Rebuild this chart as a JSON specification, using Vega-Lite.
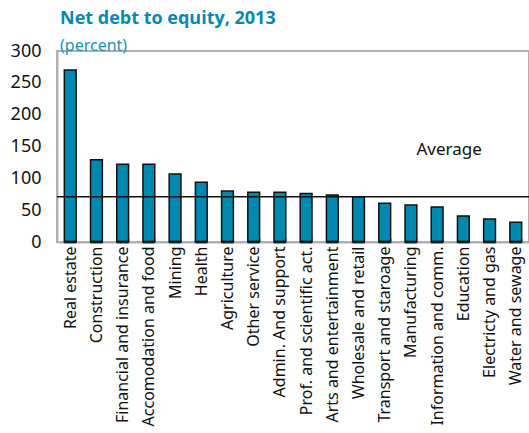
{
  "$schema": "https://vega.github.io/schema/vega-lite/v6.json",
  "width": 472,
  "height": 191,
  "autosize": "none",
  "padding": {"left": 57, "top": 51, "right": 0, "bottom": 191},
  "title": {
    "text": "Net debt to equity, 2013",
    "subtitle": "(percent)",
    "anchor": "start",
    "frame": "group",
    "dx": 3,
    "offset": -12,
    "font": "Open Sans",
    "fontSize": 18,
    "fontWeight": "bold",
    "color": "#0888b0",
    "subtitleFont": "Noto Sans",
    "subtitleFontSize": 16,
    "subtitleColor": "#1a90b8",
    "subtitlePadding": 10
  },
  "config": {
    "view": {"stroke": "#b0b0b0", "strokeWidth": 2},
    "font": "Noto Sans",
    "axisX": {
      "title": null,
      "labelAngle": -90,
      "labelFont": "Noto Sans",
      "labelFontSize": 16,
      "labelColor": "#111",
      "labelPadding": 8,
      "domainColor": "#b0b0b0",
      "domainWidth": 2,
      "tickColor": "#b0b0b0",
      "tickSize": -4,
      "tickBand": "extent",
      "labelLimit": 300,
      "labelOverlap": false,
      "grid": false
    },
    "axisY": {
      "title": null,
      "grid": false,
      "ticks": false,
      "labelFont": "Noto Sans",
      "labelFontSize": 18,
      "labelColor": "#111",
      "labelPadding": 16,
      "labelOverlap": false,
      "domainColor": "#b0b0b0",
      "domainWidth": 2
    }
  },
  "data": {
    "values": [
      {"sector": "Real estate", "value": 270},
      {"sector": "Construction", "value": 129},
      {"sector": "Financial and insurance", "value": 122},
      {"sector": "Accomodation and food", "value": 122},
      {"sector": "Mining", "value": 107},
      {"sector": "Health", "value": 94},
      {"sector": "Agriculture", "value": 80},
      {"sector": "Other service", "value": 78},
      {"sector": "Admin. And support", "value": 78},
      {"sector": "Prof. and scientific act.", "value": 76},
      {"sector": "Arts and entertainment", "value": 74},
      {"sector": "Wholesale and retail", "value": 71},
      {"sector": "Transport and staroage", "value": 61},
      {"sector": "Manufacturing", "value": 58},
      {"sector": "Information and comm.", "value": 55},
      {"sector": "Education", "value": 41},
      {"sector": "Electricty and gas", "value": 36},
      {"sector": "Water and sewage", "value": 31}
    ]
  },
  "encoding": {
    "x": {
      "field": "sector",
      "type": "nominal",
      "sort": null,
      "scale": {"paddingInner": 0.55, "paddingOuter": 0.28},
      "axis": {"labelFontSize": 16}
    }
  },
  "layer": [
    {
      "mark": {"type": "bar", "fill": "#0089b0", "stroke": "#111", "strokeWidth": 1.5},
      "encoding": {
        "y": {
          "field": "value",
          "type": "quantitative",
          "scale": {"domain": [0, 300]},
          "axis": {"values": [0, 50, 100, 150, 200, 250, 300], "labelFontSize": 18}
        }
      }
    },
    {
      "mark": {"type": "tick", "fill": "#111", "stroke": null, "thickness": 3, "bandSize": 13},
      "encoding": {"y": {"datum": 0, "axis": {"values": [0, 50, 100, 150, 200, 250, 300], "labelFontSize": 18}}}
    },
    {
      "data": {"values": [{"label": "Average", "avg": 71, "pos": 145, "anchor": "Information and comm."}]},
      "layer": [
        {
          "mark": {"type": "rule", "stroke": "#111", "strokeWidth": 1.5},
          "encoding": {"y": {"field": "avg", "type": "quantitative", "axis": {"values": [0, 50, 100, 150, 200, 250, 300], "labelFontSize": 18}}, "x": {"value": 0}, "x2": {"value": 472}}
        },
        {
          "mark": {"type": "text", "fontSize": 17, "fontWeight": "normal", "font": "Noto Sans", "fill": "#111", "dx": 12},
          "encoding": {
            "x": {"field": "anchor", "type": "nominal", "sort": null, "axis": {"labelFontSize": 16}},
            "y": {"field": "pos", "type": "quantitative", "axis": {"values": [0, 50, 100, 150, 200, 250, 300], "labelFontSize": 18}},
            "text": {"field": "label"}
          }
        }
      ]
    }
  ]
}
